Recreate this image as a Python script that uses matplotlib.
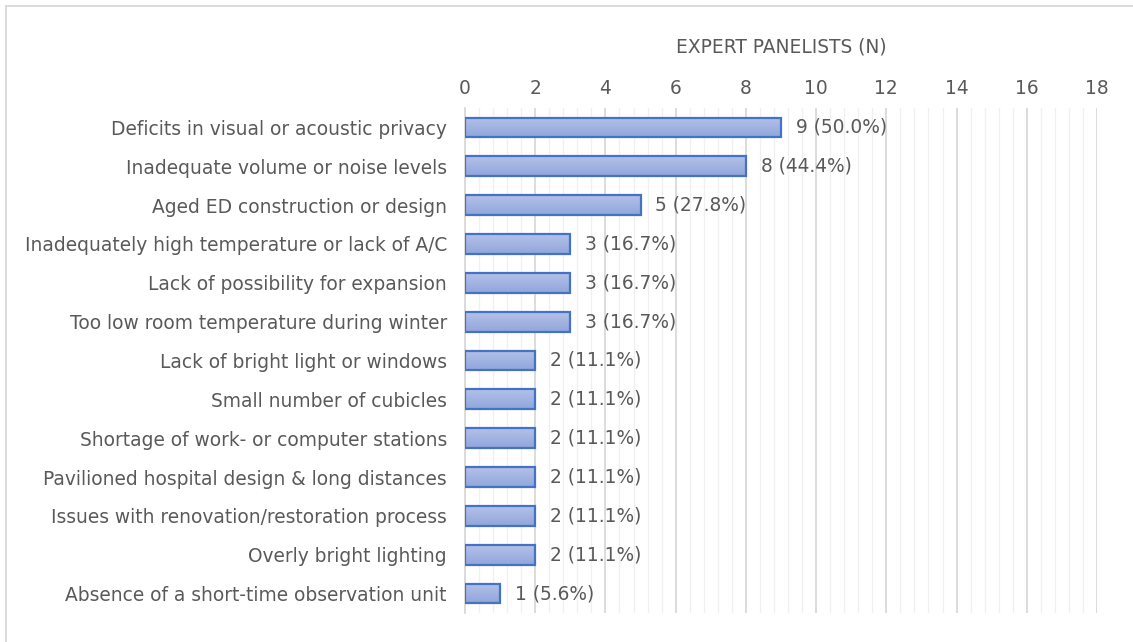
import numpy as np
import matplotlib.pyplot as plt
from matplotlib.colors import LinearSegmentedColormap
from matplotlib.lines import Line2D

plt.rcParams['font.family'] = ['DejaVu Sans']

categories = [
    "Deficits in visual or acoustic privacy",
    "Inadequate volume or noise levels",
    "Aged ED construction or design",
    "Inadequately high temperature or lack of A/C",
    "Lack of possibility for expansion",
    "Too low room temperature during winter",
    "Lack of bright light or windows",
    "Small number of cubicles",
    "Shortage of work- or computer stations",
    "Pavilioned hospital design & long distances",
    "Issues with renovation/restoration process",
    "Overly bright lighting",
    "Absence of a short-time observation unit",
]
counts = [9, 8, 5, 3, 3, 3, 2, 2, 2, 2, 2, 2, 1]
percents = [50.0, 44.4, 27.8, 16.7, 16.7, 16.7, 11.1, 11.1, 11.1, 11.1, 11.1, 11.1, 5.6]
x_ticks = [0, 2, 4, 6, 8, 10, 12, 14, 16, 18]

TXT = '#595959'
FS = 13.4

fig = plt.figure(figsize=(11.33, 6.42), dpi=100)
ax = fig.add_axes([465 / 1133, 1 - 613 / 642, (1097 - 465) / 1133, (613 - 108) / 642])

y = np.arange(len(categories))
bars = ax.barh(y, counts, height=0.51, facecolor='none', edgecolor='#4472C4',
               linewidth=1.6, zorder=4)

# vertical gradient inside each bar
grad_cmap = LinearSegmentedColormap.from_list('bar_grad', ['#B3C1E8', '#91A6DB'])
grad = np.linspace(0, 1, 64).reshape(-1, 1)
for b in bars:
    x0, y0, w, h = b.get_x(), b.get_y(), b.get_width(), b.get_height()
    ax.imshow(grad, cmap=grad_cmap, aspect='auto', extent=(x0, x0 + w, y0 + h, y0),
              zorder=3, interpolation='bicubic')

for b, c, p in zip(bars, counts, percents):
    ax.text(b.get_width() + 0.42, b.get_y() + b.get_height() / 2, f"{c} ({p:.1f}%)",
            va='center', ha='left', fontsize=FS, color=TXT, zorder=5)

ax.set_xlim(0, 18)
ax.set_ylim(len(categories) - 0.5, -0.5)
ax.set_yticks(y)
ax.set_yticklabels(categories, fontsize=FS, color=TXT)
ax.set_xticks(x_ticks)
ax.set_xticks(np.arange(0, 18.01, 0.4), minor=True)
ax.xaxis.tick_top()
ax.xaxis.set_label_position('top')
ax.tick_params(axis='x', which='major', labelsize=FS, labelcolor=TXT, length=0, pad=7)
ax.tick_params(axis='x', which='minor', length=0)
ax.tick_params(axis='y', length=0, pad=13)
ax.set_xlabel("EXPERT PANELISTS (N)", fontsize=FS, color=TXT)
ax.xaxis.set_label_coords(0.5, (613 - 47) / 505, transform=ax.transAxes)
ax.xaxis.label.set_va('center')

ax.grid(axis='x', which='major', color='#D9D9D9', linewidth=1.3, zorder=0)
ax.grid(axis='x', which='minor', color='#F0F0F0', linewidth=1.0, zorder=0)
ax.set_axisbelow(True)
for s in ['top', 'right', 'bottom']:
    ax.spines[s].set_visible(False)
ax.spines['left'].set_color('#D9D9D9')
ax.spines['left'].set_linewidth(1.3)

# outer chart frame (left and top edges)
fig.add_artist(Line2D([6 / 1133, 6 / 1133], [0, 1 - 6 / 642], transform=fig.transFigure,
                      color='#D9D9D9', linewidth=1.3))
fig.add_artist(Line2D([6 / 1133, 1], [1 - 6 / 642, 1 - 6 / 642], transform=fig.transFigure,
                      color='#D9D9D9', linewidth=1.3))

fig.savefig('out.png', dpi=100)
